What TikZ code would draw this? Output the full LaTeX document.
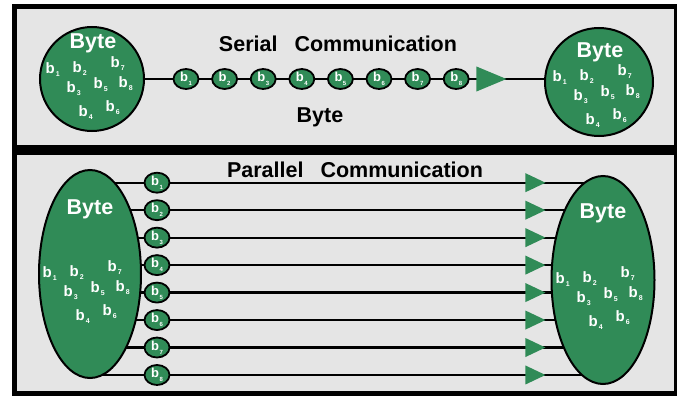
\documentclass[tikz,border=0pt]{standalone}
\usepackage{fontspec}
\setmainfont{Liberation Sans}
\usetikzlibrary{shapes,positioning,calc,backgrounds}
\pgfdeclarelayer{myback}
\pgfsetlayers{myback,background,main}
\definecolor{bytegreen}{RGB}{48,139,87}
\colorlet{panelgray}{gray!20}
\newcommand{\bitsub}[1]{b\kern1pt\raisebox{-3pt}{\fontsize{7}{7}\selectfont #1}}
\newcommand{\bitsmall}[1]{b\kern0.5pt\raisebox{-4pt}{\fontsize{6}{6}\selectfont #1}}
\tikzset{
  bigbyte/.style = { draw, line width=2pt, fill=bytegreen, inner sep=0pt },
  bitnode/.style = { draw, ellipse, line width=1.8pt, fill=bytegreen, minimum width=25pt,
    minimum height=20pt, inner sep=0pt, text=white, font=\fontsize{13}{13}\selectfont\bfseries },
  bitlbl/.style  = { anchor=base west, inner sep=0pt, text=white, font=\fontsize{15}{15}\selectfont\bfseries },
  bytelbl/.style = { text=white, inner sep=0pt, font=\fontsize{21.5}{22}\selectfont\bfseries },
  headtxt/.style = { inner sep=0pt, font=\fontsize{21.5}{22}\selectfont\bfseries },
  tip/.style     = { isosceles triangle, isosceles triangle stretches, fill=bytegreen,
    inner sep=0pt, anchor=apex },
  panel/.style   = { draw, line width=5pt, fill=panelgray },
  wire/.style    = { line width=2.2pt }
}
% the eight bits scattered inside a byte
\newcommand{\bitcloud}[3]{%
  \foreach \n/\dx/\dy in {1/0/0,2/27/-1,7/65/-6,3/21/19,5/48/15,8/73/14,4/33/43,6/60/38}
    \node[bitlbl] (#1-b\n) at ($(#1)+(#2+\dx,#3+\dy)$) {\bitsub{\n}};
}
\begin{document}
\begin{tikzpicture}[x=1pt,y=-1pt]
  \useasboundingbox (0,0) rectangle (677,396);
  \begin{pgfonlayer}{myback}
    \draw[panel] (14.5,6.5) rectangle (676,147.5);
    \draw[panel] (14.5,152) rectangle (676,393.5);
  \end{pgfonlayer}

  % serial
  \node[bigbyte, circle, minimum size=104pt] (srcS) at (92,79) {};
  \node[bigbyte, circle, minimum size=108pt] (dstS) at (599,82) {};
  \node[bytelbl] (srcSlbl) at ($(srcS)+(1,-35.5)$) {Byte};
  \node[bytelbl] (dstSlbl) at ($(dstS)+(1,-29.5)$) {Byte};
  \bitcloud{srcS}{-46.5}{-5.5}
  \bitcloud{dstS}{-46.5}{-0.5}
  \foreach \i in {1,...,8}
    \node[bitnode] (s\i) at ({186+38.6*(\i-1)},79) {\bitsmall{\i}};
  \node[tip, minimum width=25pt, minimum height=30pt] (arrS) at (507,79) {};
  \begin{pgfonlayer}{background}
    \draw[wire] (srcS) -- (srcS -| dstS);
  \end{pgfonlayer}
  \node[headtxt] (serT) at (338,43.5) {Serial\hspace{17pt}Communication};
  \node[headtxt] (byteT) at (320,117) {Byte};

  % parallel
  \node[bigbyte, ellipse, minimum width=102pt, minimum height=208pt] (srcP) at (90,274) {};
  \node[bigbyte, ellipse, minimum width=103pt, minimum height=208pt] (dstP) at (603,280) {};
  \node[bytelbl] (srcPlbl) at ($(srcP)+(0,-64.5)$) {Byte};
  \node[bytelbl] (dstPlbl) at ($(dstP)+(0,-66.5)$) {Byte};
  \bitcloud{srcP}{-47.5}{3.5}
  \bitcloud{dstP}{-47.5}{3.5}
  \foreach \i in {1,...,8} {
    \node[bitnode] (p\i) at (157,{182.7+27.47*(\i-1)}) {\bitsmall{\i}};
    \node[tip, minimum width=19pt, minimum height=20pt] (t\i) at (546,{182.7+27.47*(\i-1)}) {};
    \begin{pgfonlayer}{background}
      \draw[wire] (srcP.center |- p\i) -- (dstP.center |- p\i);
    \end{pgfonlayer}
  }
  \node[headtxt] (parT) at (355,169.5) {Parallel\hspace{17pt}Communication};
\end{tikzpicture}
\end{document}
